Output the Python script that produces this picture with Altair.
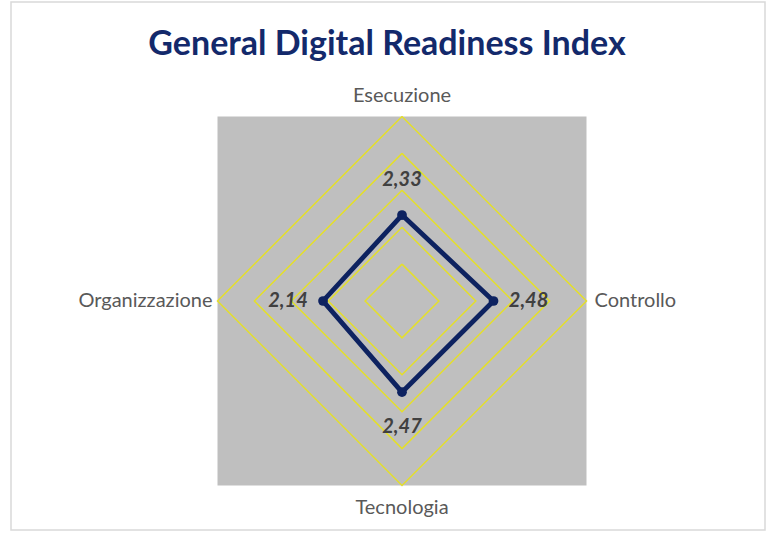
import altair as alt
import pandas as pd

title_text = "General Digital Readiness Index"
categories = ["Esecuzione", "Controllo", "Tecnologia", "Organizzazione"]
values = [2.33, 2.48, 2.47, 2.14]
ring_levels = [1, 2, 3, 4, 5]

# chart geometry (pixels)
W, H = 754, 528
CX, CY = 391, 299          # radar centre inside the view
PX_PER_UNIT = 36.9

xdom = [-CX / PX_PER_UNIT, (W - CX) / PX_PER_UNIT]
ydom = [-(H - CY) / PX_PER_UNIT, CY / PX_PER_UNIT]
X = lambda f: alt.X(f, type="quantitative", scale=alt.Scale(domain=xdom, nice=False, zero=False), axis=None)
Y = lambda f: alt.Y(f, type="quantitative", scale=alt.Scale(domain=ydom, nice=False, zero=False), axis=None)

n = len(categories)
pts = pd.DataFrame({"cat": categories, "value": values, "idx": list(range(n))})
line_df = pd.concat([pts, pts.iloc[[0]].assign(idx=n)], ignore_index=True)
rings = pd.DataFrame([(lvl, k) for lvl in ring_levels for k in range(n + 1)], columns=["level", "k"])
bg = pd.DataFrame({"r": [max(ring_levels)]})
labels_df = pd.DataFrame({"cat": categories, "idx": list(range(n)), "r": [max(ring_levels)] * n})

ang = f"datum.idx * 2 * PI / {n}"

background = alt.Chart(bg).mark_rect(color="#BFBFBF").transform_calculate(
    x="-datum.r", x2="datum.r", y="-datum.r", y2="datum.r"
).encode(x=X("x"), x2="x2:Q", y=Y("y"), y2="y2:Q")

ring_layer = alt.Chart(rings).mark_line(color="#E4DF2B", strokeWidth=1.5).transform_calculate(
    a=f"datum.k * 2 * PI / {n}",
).transform_calculate(
    x="datum.level * sin(datum.a)", y="datum.level * cos(datum.a)"
).encode(x=X("x"), y=Y("y"), detail="level:N", order="k:Q")

line = alt.Chart(line_df).mark_line(color="#0D2260", strokeWidth=4.8).transform_calculate(
    x=f"datum.value * sin({ang})", y=f"datum.value * cos({ang})"
).encode(x=X("x"), y=Y("y"), order="idx:Q")

points = alt.Chart(pts).mark_circle(color="#0D2260", size=95, opacity=1).transform_calculate(
    x=f"datum.value * sin({ang})", y=f"datum.value * cos({ang})"
).encode(x=X("x"), y=Y("y"))

value_labels = alt.Chart(pts).mark_text(
    font="Lato", fontSize=20, fontWeight="bold", fontStyle="italic", color="#404040",
    align="center", baseline="middle"
).transform_calculate(
    rr="datum.value + 0.95",
    x=f"datum.rr * sin({ang})", y=f"datum.rr * cos({ang})",
    txt="replace(format(datum.value, '.2f'), '.', ',')"
).encode(x=X("x"), y=Y("y"), text="txt:N")

cat_base = alt.Chart(labels_df).transform_calculate(
    x=f"datum.r * sin({ang})", y=f"datum.r * cos({ang})"
)
cat_style = dict(font="Lato", fontSize=20, color="#595959", baseline="middle")
cat_top = cat_base.transform_filter("datum.idx == 0").mark_text(align="center", dy=-21, **cat_style).encode(
    x=X("x"), y=Y("y"), text="cat:N")
cat_bottom = cat_base.transform_filter(f"datum.idx == {n // 2}").mark_text(align="center", dy=22, **cat_style).encode(
    x=X("x"), y=Y("y"), text="cat:N")
cat_right = cat_base.transform_filter("datum.idx == 1").mark_text(align="left", dx=8, **cat_style).encode(
    x=X("x"), y=Y("y"), text="cat:N")
cat_left = cat_base.transform_filter("datum.idx == 3").mark_text(align="right", dx=-5, **cat_style).encode(
    x=X("x"), y=Y("y"), text="cat:N")

title = alt.Chart(pd.DataFrame({"t": [title_text]})).mark_text(
    font="Lato", fontSize=34, fontWeight="bold", color="#13296B", align="center", baseline="middle"
).encode(x=alt.value(376), y=alt.value(43), text="t:N")

chart = alt.layer(
    background, ring_layer, line, points, value_labels,
    cat_top, cat_bottom, cat_right, cat_left, title
).properties(
    width=W, height=H,
    padding={"left": 11, "top": 2, "right": 3, "bottom": 4},
    background="white",
).configure_view(stroke="#D9D9D9", strokeWidth=1.5)

chart.save("out.html", embed_options={"renderer": "svg", "actions": False})
